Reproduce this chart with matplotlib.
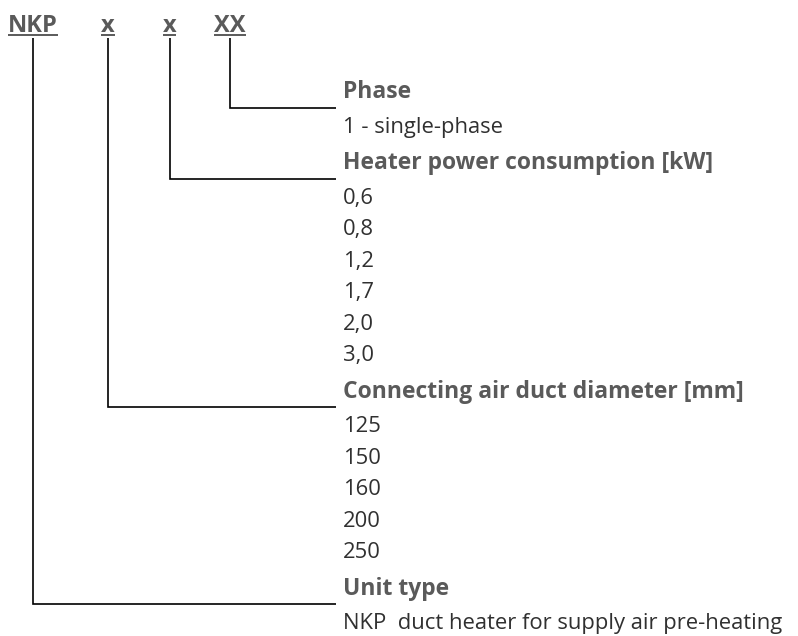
import matplotlib
matplotlib.use("Agg")
import matplotlib.pyplot as plt

# code letters across the top, left to right
codes = ["NKP", "x", "x", "XX"]
code_x = [33, 108, 169.5, 230]        # centre of each code letter group (px)

# sections listed top to bottom; section_code = which code letter it explains
titles = ["Phase", "Heater power consumption [kW]",
          "Connecting air duct diameter [mm]", "Unit type"]
phase_items = ["1 - single-phase"]
power_items = ["0,6", "0,8", "1,2", "1,7", "2,0", "3,0"]
diameter_items = ["125", "150", "160", "200", "250"]
unit_items = ["NKP  duct heater for supply air pre-heating"]
section_items = [phase_items, power_items, diameter_items, unit_items]
section_code = [3, 2, 1, 0]

W, H = 798, 636
FONT = "Open Sans"
GREY = "#5a5a5a"
TXT = "#303030"
FS_B, FS_R = 16.5, 15.8
CAP_B = FS_B * 100 / 72 * 0.714 / 2   # half cap height in px, to place by baseline
CAP_R = FS_R * 100 / 72 * 0.714 / 2

fig = plt.figure(figsize=(W / 100, H / 100), dpi=100)
ax = fig.add_axes([0, 0, 1, 1])
ax.set_xlim(0, W); ax.set_ylim(H, 0); ax.axis("off")

# top codes, bold + underlined
code_base = 32.5
under_y = 35
fig.canvas.draw()
rend = fig.canvas.get_renderer()
for c, cx in zip(codes, code_x):
    t = ax.text(cx, code_base, c, ha="center", va="baseline", fontsize=17,
                fontweight="bold", color=GREY, family=FONT)
    bb = t.get_window_extent(rend).transformed(ax.transData.inverted())
    ax.plot([bb.x0, bb.x1], [under_y, under_y], color=GREY, lw=1.4,
            solid_capstyle="butt")

# rows: item step, gap after a title, gap before a title
text_x = 343
line_end = 336
s_item, g_after, g_before = 31.5, 35, 36
y = 90
for k, (title, items, ci) in enumerate(zip(titles, section_items, section_code)):
    if k > 0:
        y += g_before
    ax.text(text_x, y + CAP_B, title, ha="left", va="baseline", fontsize=FS_B,
            fontweight="bold", color=GREY, family=FONT)
    ly = y + g_after / 2
    cx = code_x[ci]
    ax.plot([cx, cx, line_end], [under_y + 2.5, ly, ly], color="black", lw=1.2,
            solid_joinstyle="miter", solid_capstyle="butt")
    y += g_after
    for j, it in enumerate(items):
        if j > 0:
            y += s_item
        ax.text(text_x, y + CAP_R, it, ha="left", va="baseline", fontsize=FS_R,
                color=TXT, family=FONT)

fig.savefig("out.png", dpi=100)
